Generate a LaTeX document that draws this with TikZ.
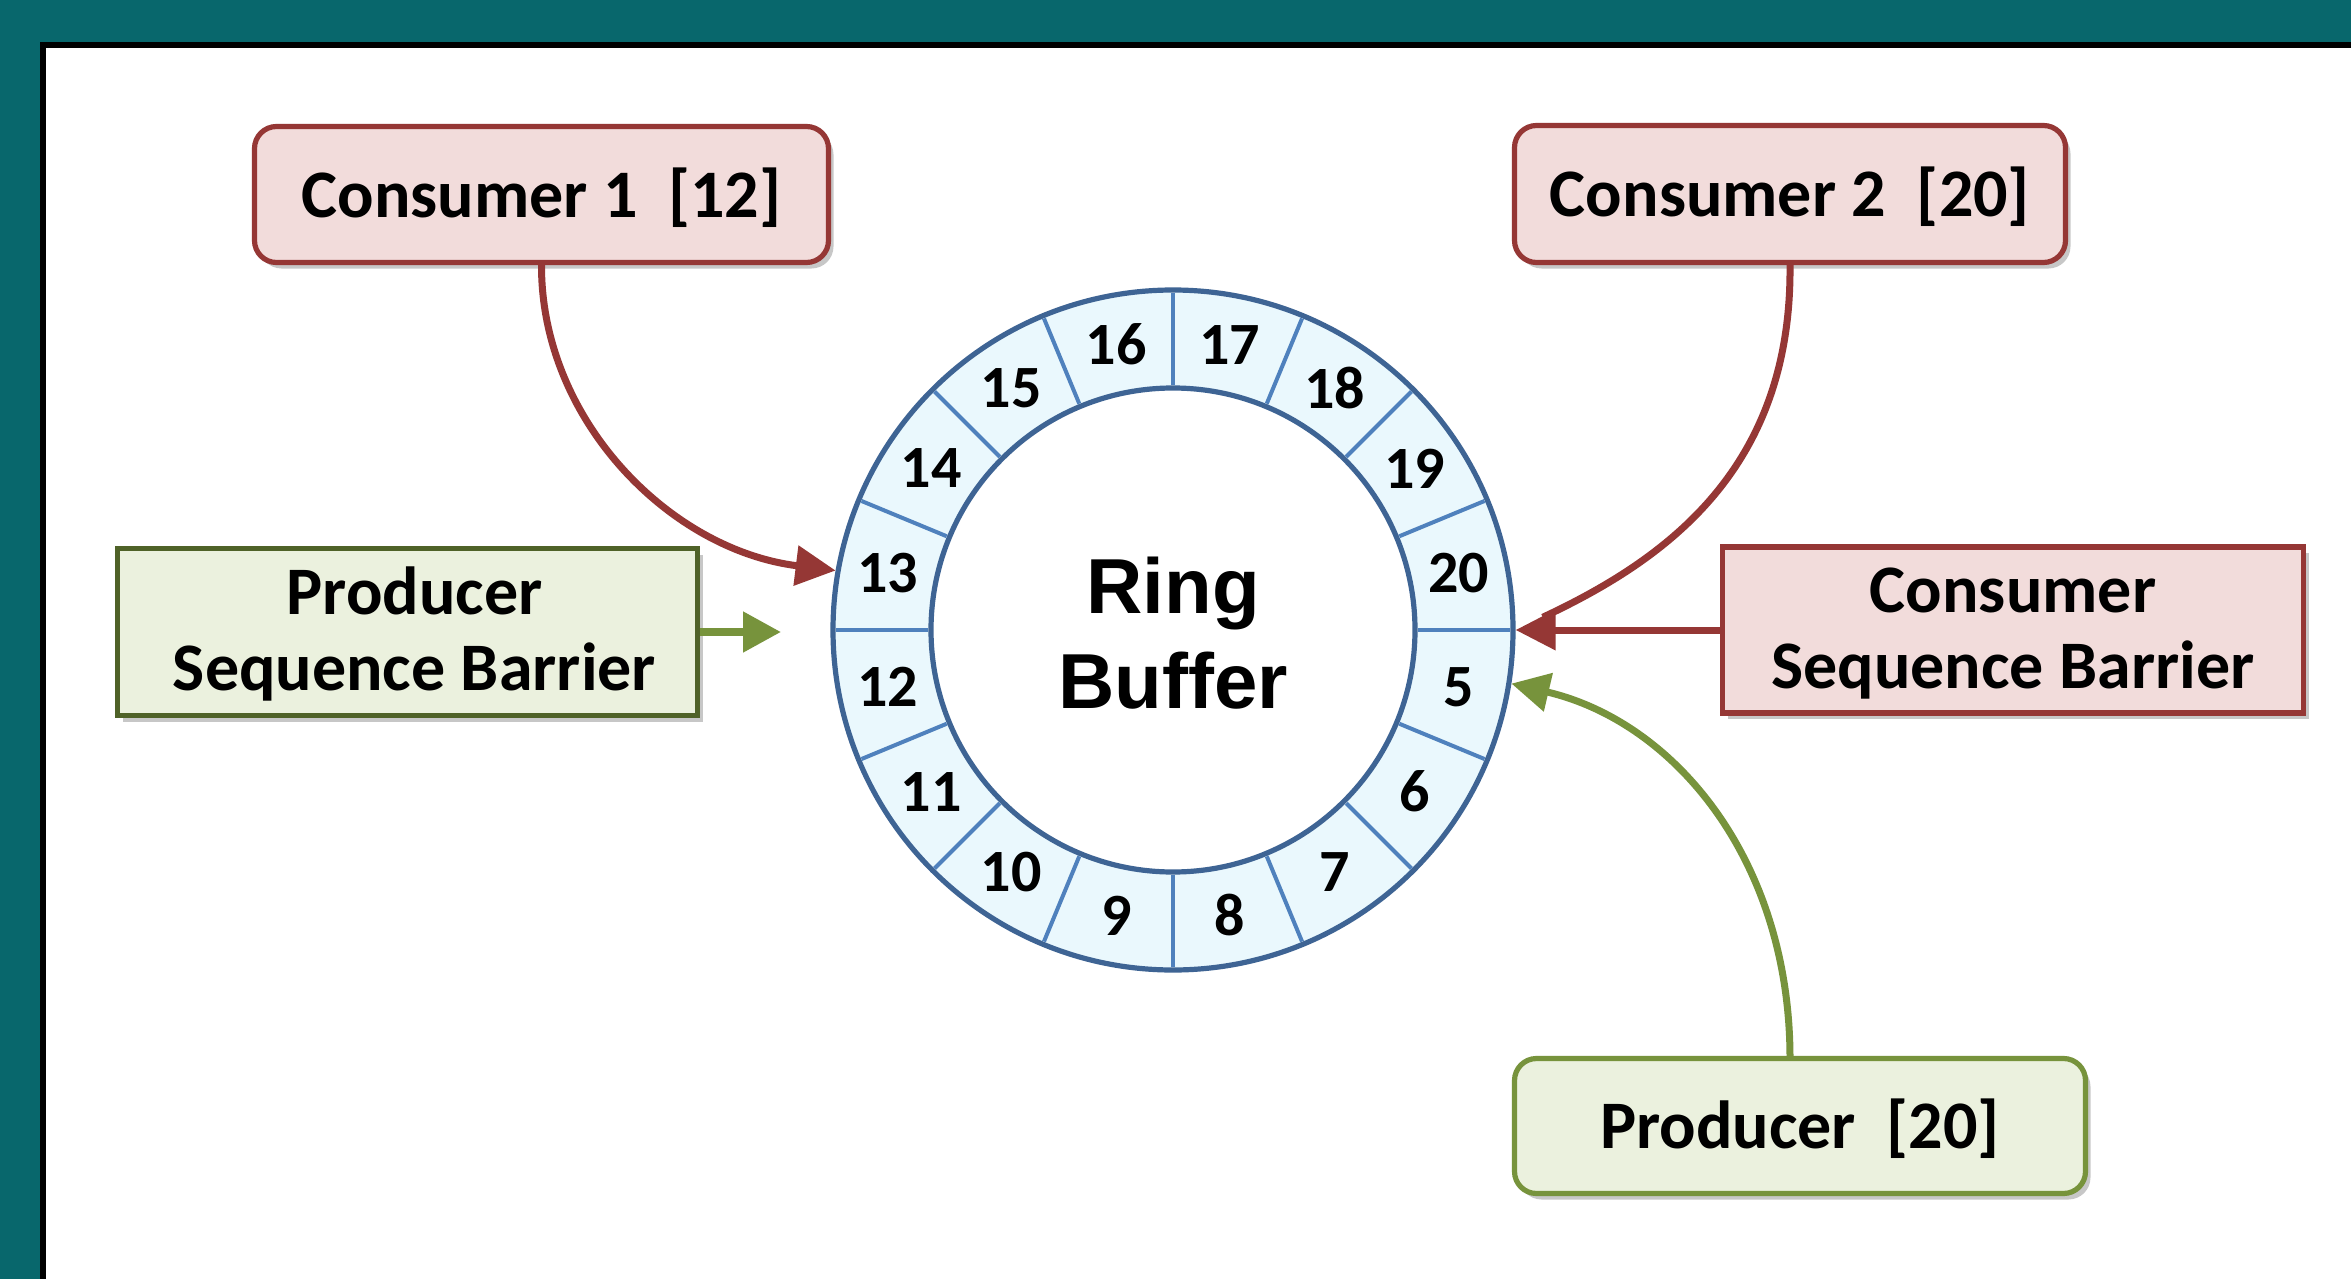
\documentclass[tikz,border=0pt]{standalone}
\usepackage{fontspec}
\newfontfamily\calfont{Carlito}
\newfontfamily\arialfont{Liberation Sans}
\usetikzlibrary{arrows.meta,shadows}
\definecolor{tealbg}{HTML}{08676C}
\definecolor{redline}{HTML}{953735}
\definecolor{redfill}{HTML}{F2DCDB}
\definecolor{greendark}{HTML}{4F6228}
\definecolor{greenline}{HTML}{77933C}
\definecolor{greenfill}{HTML}{EBF1DE}
\definecolor{ringfill}{HTML}{EAF8FD}
\definecolor{ringdark}{HTML}{3E6494}
\definecolor{ringseg}{HTML}{4F81BD}
\begin{document}
\begin{tikzpicture}[x=0.5pt,y=-0.5pt,
  boxbase/.style={draw, line width=2.6pt, inner sep=0pt, align=center,
    font=\calfont\bfseries\fontsize{34pt}{38pt}\selectfont,
    text height=32pt, text depth=9.5pt,
    drop shadow={shadow xshift=2.5pt, shadow yshift=-3pt, fill=black, opacity=0.22}},
  twolines/.style={text height=68pt, text depth=10pt},
  redbox/.style={boxbase, draw=redline, fill=redfill},
  greenbox/.style={boxbase, fill=greenfill},
  roundbox/.style={rounded corners=11pt},
  numlabel/.style={inner sep=0pt, font=\calfont\bfseries\fontsize{30pt}{36pt}\selectfont},
  segline/.style={draw=ringseg, line width=2pt},
  ringstroke/.style={draw=ringdark, line width=2.6pt},
  redline/.style={draw=redline, line width=3.5pt},
  redarrow/.style={redline, -{Triangle[length=20pt,width=19.5pt]}},
  greenarrow/.style={draw=greenline, line width=3.5pt, -{Triangle[length=19pt,width=19pt]}}
]
\useasboundingbox (0,0) rectangle (2351,1279);
\fill[tealbg] (0,0) rectangle (2351,1279);
\clip (0,0) rectangle (2351,1279);
\draw[line width=3pt, fill=white] (43,45) rectangle (2420,1340);

% boxes
\node[redbox, roundbox, minimum width=287pt, minimum height=68pt] (c1) at (541.5,194.5) {Consumer 1~~[12]};
\node[redbox, roundbox, minimum width=275.5pt, minimum height=68.5pt] (c2) at (1790,194) {Consumer 2~~[20]};
\node[greenbox, twolines, draw=greendark, minimum width=290pt, minimum height=83.5pt] (psb) at (407.5,632) {\hspace*{7pt}Producer\\\hspace*{7pt}Sequence Barrier};
\node[redbox, twolines, minimum width=290.5pt, minimum height=83pt] (csb) at (2013,630) {Consumer\\Sequence Barrier};
\node[greenbox, roundbox, draw=greenline, minimum width=285.5pt, minimum height=67.5pt] (p) at (1800,1126) {Producer~~[20]};

% ring
\node[circle, ringstroke, fill=ringfill, minimum size=340pt, inner sep=0pt] (ring) at (1173,630) {};
\foreach \a in {0,22.5,...,337.5}
  \draw[segline] ([shift={(\a:122.5pt)}]ring.center) -- ([shift={(\a:168.6pt)}]ring.center);
\draw[ringstroke, fill=white] (ring.center) circle[radius=121pt];
\foreach \n [count=\i] in {20,19,18,17,16,15,14,13,12,11,10,9,8,7,6,5} {
  \pgfmathsetmacro{\ang}{11.25+(\i-1)*22.5}
  \node[numlabel] (n\n) at ([shift={(\ang:145.5pt)}]ring.center) {\n};
}
\node[inner sep=0pt, align=center, font=\arialfont\bfseries\fontsize{39pt}{47.5pt}\selectfont] (title) at (1173,633) {Ring\\Buffer};

% connectors
\coordinate (psbtip) at (781,632);
\draw[draw=greenline, line width=4pt, -{Triangle[length=19pt,width=19.5pt]}] (psb.east) -- (psbtip);
\draw[redarrow] (c1.south) .. controls (541,420) and (670,550) .. (ring.170);
\draw[redline, shorten >=15pt] (c2.south) .. controls (1792,470) and (1665,560) .. (ring.east);
\draw[redarrow] (csb.west) -- (ring.east);
\draw[greenarrow] ([xshift=-5pt]p.north) .. controls (1789,860) and (1675,722) .. (ring.-9.5);
\end{tikzpicture}
\end{document}
